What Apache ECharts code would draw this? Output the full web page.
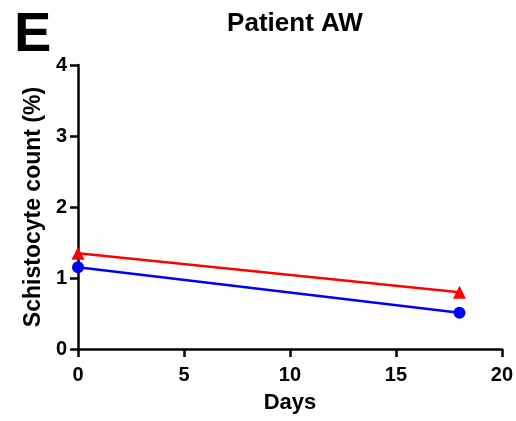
<!DOCTYPE html>
<html><head><meta charset="utf-8">
<script src="https://cdn.jsdelivr.net/npm/echarts@6/dist/echarts.min.js"></script>
<style>html,body{margin:0;padding:0;background:#fff}#c{width:516px;height:421px}</style>
</head><body><div id="c"></div>
<script>
const days = [0, 18];
const redSeries = [1.35, 0.80];
const blueSeries = [1.15, 0.51];
const xTicks = [0, 5, 10, 15, 20];
const yTicks = [0, 1, 2, 3, 4];
const titleText = 'Patient AW';
const panelLabel = 'E';
const xName = 'Days';
const yName = 'Schistocyte count (%)';

const font = 'Liberation Sans, Arial, sans-serif';
const chart = echarts.init(document.getElementById('c'));
chart.setOption({
  animation: false,
  backgroundColor: '#fff',
  title: { text: titleText, left: 290, top: 6, textAlign: 'center',
    textStyle: { fontFamily: font, fontWeight: 'bold', fontSize: 26, color: '#000' } },
  graphic: [{ type: 'text', left: 14, top: 8,
    style: { text: panelLabel, fontFamily: font, fontWeight: 'bold', fontSize: 56, fill: '#000' } }],
  grid: { left: 78, right: 14, top: 65, bottom: 72 },
  xAxis: { type: 'value', min: xTicks[0], max: xTicks[xTicks.length-1], interval: 5,
    name: xName, nameLocation: 'middle', nameGap: 43,
    nameTextStyle: { fontFamily: font, fontWeight: 'bold', fontSize: 22, color: '#000' },
    axisLine: { lineStyle: { color: '#000', width: 2.5 } },
    axisTick: { length: 8, lineStyle: { color: '#000', width: 2.5 } },
    axisLabel: { fontFamily: font, fontWeight: 'bold', fontSize: 20, color: '#000', margin: 16 },
    splitLine: { show: false } },
  yAxis: { type: 'value', min: yTicks[0], max: yTicks[yTicks.length-1], interval: 1,
    name: yName, nameLocation: 'middle', nameGap: 31, nameRotate: 90,
    nameTextStyle: { fontFamily: font, fontWeight: 'bold', fontSize: 23, color: '#000' },
    axisLine: { show: true, lineStyle: { color: '#000', width: 2.5 } },
    axisTick: { show: true, length: 8, lineStyle: { color: '#000', width: 2.5 } },
    axisLabel: { fontFamily: font, fontWeight: 'bold', fontSize: 20, color: '#000', margin: 11 },
    splitLine: { show: false } },
  series: [
    { type: 'line', data: days.map((d,i)=>[d, redSeries[i]]), symbol: 'triangle', symbolSize: 13,
      itemStyle: { color: '#ff0000' }, lineStyle: { color: '#ff0000', width: 2.5 } },
    { type: 'line', data: days.map((d,i)=>[d, blueSeries[i]]), symbol: 'circle', symbolSize: 12,
      itemStyle: { color: '#0000ff' }, lineStyle: { color: '#0000ff', width: 2.5 } }
  ]
});
</script></body></html>
